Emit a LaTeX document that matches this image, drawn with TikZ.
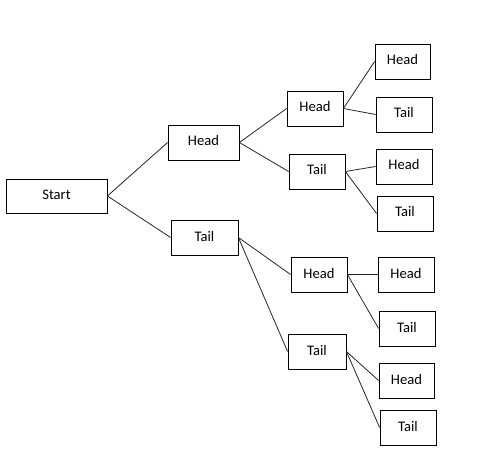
\documentclass[tikz,border=0pt]{standalone}
\usepackage{fontspec}
\setmainfont{Carlito}
\begin{document}
\begin{tikzpicture}[x=1pt,y=-1pt,
  box/.style={draw=black,line width=0.8pt,minimum height=35pt,inner sep=0pt,
    font=\fontsize{14.6}{17}\selectfont,text height=10pt,text depth=3pt},
  conn/.style={draw=black!85,line width=0.8pt}]
\useasboundingbox (0,0) rectangle (479,457);
\node[box,minimum width=101pt,minimum height=34pt] (start) at (56.5,196) {Start};
\node[box,minimum width=71pt] (h1) at (203.5,142.5) {Head};
\node[box,minimum width=67pt] (t1) at (204.5,237.5) {Tail};
\node[box,minimum width=56pt] (hh) at (315,108.5) {Head};
\node[box,minimum width=56pt] (ht) at (317,171.5) {Tail};
\node[box,minimum width=55pt] (hhh) at (402.5,61.5) {Head};
\node[box,minimum width=56pt] (hht) at (404,114.5) {Tail};
\node[box,minimum width=56pt] (hth) at (404,166.5) {Head};
\node[box,minimum width=56pt] (htt) at (405,213.5) {Tail};
\node[box,minimum width=56pt] (th) at (319,274.5) {Head};
\node[box,minimum width=58pt] (tt) at (317,351.5) {Tail};
\node[box,minimum width=56pt] (thh) at (406,274.5) {Head};
\node[box,minimum width=56pt] (tht) at (407,328.5) {Tail};
\node[box,minimum width=55pt] (tth) at (406.5,380.5) {Head};
\node[box,minimum width=56pt] (ttt) at (408,427.5) {Tail};
\draw[conn] (start.east) -- (h1.west);
\draw[conn] (start.east) -- (t1.west);
\draw[conn] (h1.east) -- (hh.west);
\draw[conn] (h1.east) -- (ht.west);
\draw[conn] (t1.east) -- (th.west);
\draw[conn] (t1.east) -- (tt.west);
\draw[conn] (hh.east) -- (hhh.west);
\draw[conn] (hh.east) -- (hht.west);
\draw[conn] (ht.east) -- (hth.west);
\draw[conn] (ht.east) -- (htt.west);
\draw[conn] (th.east) -- (thh.west);
\draw[conn] (th.east) -- (tht.west);
\draw[conn] (tt.east) -- (tth.west);
\draw[conn] (tt.east) -- (ttt.west);
\end{tikzpicture}
\end{document}
